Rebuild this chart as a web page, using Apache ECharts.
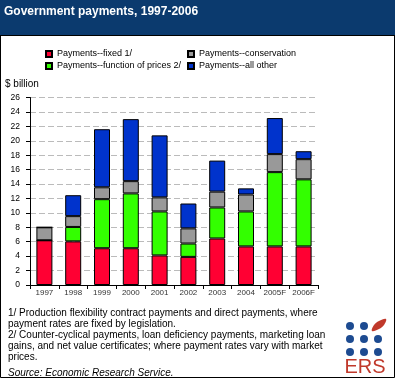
<!DOCTYPE html>
<html><head><meta charset="utf-8">
<script src="https://cdn.jsdelivr.net/npm/echarts@6/dist/echarts.min.js"></script>
<style>html,body{margin:0;padding:0;background:#fff}#c{width:396px;height:380px}</style>
</head><body><div id="c"></div>
<script>
const categories = ['1997','1998','1999','2000','2001','2002','2003','2004','2005F','2006F'];
const fixedPay = [6.2, 6.05, 5.1, 5.1, 4.1, 3.9, 6.45, 5.35, 5.35, 5.35];
const pricePay = [0, 2.0, 6.8, 7.6, 6.1, 1.85, 4.3, 4.85, 10.3, 9.3];
const conservPay = [1.8, 1.5, 1.65, 1.7, 1.95, 2.1, 2.2, 2.35, 2.5, 2.8];
const otherPay = [0, 2.9, 8.05, 8.6, 8.6, 3.45, 4.3, 0.85, 5.0, 1.1];
const yTicks = [0,2,4,6,8,10,12,14,16,18,20,22,24,26];
const seriesNames = ['Payments--fixed 1/','Payments--function of prices 2/','Payments--conservation','Payments--all other'];
const seriesColors = ['#ff0033','#33ff00','#999999','#0033cc'];
const footnotes = [
 '1/ Production flexibility contract payments and direct payments, where',
 'payment rates are fixed by legislation.',
 '2/ Counter-cyclical payments, loan deficiency payments, marketing loan',
 'gains, and net value certificates; where payment rates vary with market',
 'prices.'
];
const sourceText = 'Source: Economic Research Service.';
const titleText = 'Government payments, 1997-2006';

const font = 'Liberation Sans, Arial, sans-serif';
const chart = echarts.init(document.getElementById('c'), null, {renderer:'canvas'});
const dataSets = [fixedPay, pricePay, conservPay, otherPay];
const series = seriesNames.map((n,i)=>({
  name:n, type:'bar', stack:'t', barWidth:16,
  data: dataSets[i],
  itemStyle:{color:seriesColors[i], borderColor:'#000', borderWidth:1},
  emphasis:{disabled:true}
}));
const graphics = [
  {type:'rect', shape:{x:0.5,y:0.5,width:394,height:377}, style:{fill:'none',stroke:'#000',lineWidth:1}, z:-1},
  {type:'rect', shape:{x:0,y:0,width:395,height:35}, style:{fill:'#0b3a6e'}},
  {type:'rect', shape:{x:0,y:35,width:395,height:1}, style:{fill:'#000'}},
  {type:'text', x:4, y:12, style:{text:titleText, fill:'#fff', font:'bold 12px '+font, textVerticalAlign:'middle'}},
  {type:'text', x:5, y:84, style:{text:'$ billion', fill:'#000', font:'10px '+font, textVerticalAlign:'middle'}}
];
footnotes.forEach((t,i)=>graphics.push({type:'text', x:8, y:313+i*11, style:{text:t, fill:'#000', font:'10px '+font, textVerticalAlign:'middle'}}));
graphics.push({type:'text', x:8, y:373, style:{text:sourceText, fill:'#000', font:'italic 10px '+font, textVerticalAlign:'middle'}});
// ERS logo
const dotX=[350,364,378], dotY=[326,339,352];
dotY.forEach((yy,r)=>dotX.forEach((xx,c)=>{ if(!(r===0&&c===2)) graphics.push({type:'circle', shape:{cx:xx,cy:yy,r:4}, style:{fill:'#1d4b91'}}); }));
graphics.push({type:'polygon', shape:{points:[[372,331],[374,325],[379,321],[386,319],[384,325],[379,329]], smooth:0.4}, style:{fill:'#c0392b'}});
graphics.push({type:'text', x:365, y:367, style:{text:'ERS', fill:'#c0392b', font:'20px '+font, textAlign:'center', textVerticalAlign:'middle'}});

const legendCommon = {orient:'vertical', itemWidth:6, itemHeight:6, itemGap:0, padding:0, icon:'rect', selectedMode:false,
  textStyle:{fontSize:9, fontFamily:font, color:'#000', lineHeight:12}};
chart.setOption({
  animation:false,
  grid:{left:30, right:78, top:97.5, bottom:95, outerBoundsMode:'none', containLabel:false},
  legend:[
    Object.assign({left:45, top:48, data:[seriesNames[0],seriesNames[1]]}, legendCommon),
    Object.assign({left:187, top:48, data:[seriesNames[2],seriesNames[3]]}, legendCommon)
  ],
  xAxis:{type:'category', data:categories,
    axisLine:{lineStyle:{color:'#000',width:1}},
    axisTick:{show:true, length:4, lineStyle:{color:'#000'}},
    axisLabel:{interval:0, fontSize:8, fontFamily:font, color:'#333', margin:4}},
  yAxis:{type:'value', min:0, max:26, interval:2,
    axisLine:{show:true, lineStyle:{color:'#000'}},
    axisTick:{show:true, length:4, lineStyle:{color:'#000'}},
    axisLabel:{fontSize:8.5, fontFamily:font, color:'#000', margin:10},
    splitLine:{show:true, lineStyle:{color:'#bbb', type:[6,3]}}},
  series,
  graphic:graphics
});
</script></body></html>
